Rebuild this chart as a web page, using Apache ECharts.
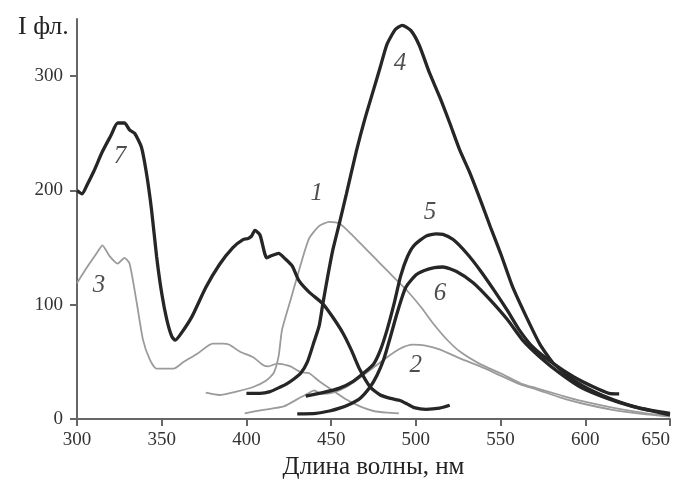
<!DOCTYPE html>
<html>
<head>
<meta charset="utf-8">
<script src="https://cdn.jsdelivr.net/npm/echarts@6/dist/echarts.min.js"></script>
<style>html,body{margin:0;padding:0;background:#fff;}#c{width:673px;height:482px;}</style>
</head>
<body>
<div id="c"></div>
<script>
// Data (wavelength nm, fluorescence intensity)
const curve1 = [[376,23],[384,21],[394,24],[404,28],[411,33],[416,40],[419,55],[421,78],[426,104],[432,135],[437,158],[443,169],[449,172.5],[455,171],[463,160],[471,148],[479,136],[487,124],[495,112],[503,98],[510,84],[518,70],[526,59],[538,48],[550,40],[562,31],[571,27],[585,21],[597,16],[616,10],[636,5],[650,3]];
const curve2 = [[399,5],[410,8],[422,11],[432,19],[436,22],[440,25],[444,22],[451,23],[459,28],[467,36],[475,45],[483,54],[490,61],[498,65],[505,64.5],[514,61],[526,53],[538,46],[550,38],[562,30],[571,26],[585,19],[597,14],[616,8],[636,4],[650,2]];
const curve3 = [[300,119],[306,133],[312,146],[315,152],[319,143],[324,136],[328,141],[331,136],[335,104],[339,69],[343,52],[347,44],[357,44],[363,50],[371,57],[380,66],[386,66],[390,65],[396,59],[404,54],[410,47],[413,46],[418,48.5],[421,48],[426,46],[432,41],[437,40],[443,33],[451,25],[459,17],[467,11],[475,7],[483,5.5],[490,5]];
const curve4 = [[400,22.5],[408,22.5],[414,24],[420,28],[424,31],[428,35],[432,40],[436,50],[440,68],[443,82],[445,100],[448,125],[451,148],[455,172],[459,197],[465,235],[470,263],[475,288],[479,308],[483,328],[488,341],[492,344.5],[497,340],[502,327],[508,303],[514,282],[520,259],[526,235],[532,215],[538,192],[544,168],[550,145],[557,116],[565,90],[573,66],[581,49],[593,34],[605,24],[617,16.5],[632,9.5],[650,5]];
const curve5 = [[435,20],[445,23],[455,27],[463,33],[469,40],[475,48],[479,60],[483,78],[487,100],[491,125],[495,142],[499,152],[506,160],[512,162],[516,161.5],[522,157],[530,145],[538,130],[546,113],[554,95],[561,78],[569,63],[581,48.6],[593,37],[605,28],[614,22.5],[620,22]];
const curve6 = [[430,4.5],[441,5],[449,7],[455,9.5],[461,13],[467,18],[473,28],[477,38],[481,52],[485,72],[489,93],[494,115],[500,126],[505,130],[511,132.5],[516,133],[524,129],[534,119],[544,104],[554,87],[563,69],[573,54.5],[585,40],[597,28],[613,18],[628,11],[650,3.5]];
const curve7 = [[300,200],[303,197],[306,205],[310,217],[315,234],[320,248],[324,259],[328,259],[331,253],[334,250],[338,238],[341,215],[344,183],[347,142],[350,110],[353,87],[356,72],[358,69],[362,76],[368,90],[376,115],[384,135],[392,150],[398,157],[401,158],[403,160],[405,165],[408,161],[412,141],[415,143],[419,145],[423,140],[427,134],[431,121],[437,111],[445,101],[451,89],[457,75],[462,60],[467,43],[473,28],[479,21],[485,18],[491,16],[495,13],[499,10],[506,8.5],[514,9.5],[520,12]];
const curveLabels = [['1',441.5,197.5],['2',500,47],['3',313,117],['4',490.7,311],['5',508.4,181],['6',514.3,110],['7',325.4,229.5]];
const xTicks = [300,350,400,450,500,550,600,650];
const yTicks = [0,100,200,300];

const BLACK = '#262626', GRAY = '#9b9b9b';
const FONT = 'Liberation Serif';
function line(name, data, color, width) {
  return {name, type:'line', data, showSymbol:false, smooth:0.2, silent:true,
    lineStyle:{color, width}, z: color===BLACK?3:2};
}
const chart = echarts.init(document.getElementById('c'));
chart.setOption({
  animation:false,
  backgroundColor:'#fff',
  title:{text:'I фл.', left:13, top:9, textStyle:{fontFamily:FONT, fontSize:26, fontWeight:'normal', color:'#222'}},
  grid:{left:77, right:3, top:19, bottom:63, containLabel:false, outerBoundsMode:'none'},
  xAxis:{type:'value', min:300, max:650, interval:50,
    name:'Длина волны, нм', nameLocation:'middle', nameGap:34,
    nameTextStyle:{fontFamily:FONT, fontSize:25, color:'#222'},
    axisLine:{lineStyle:{color:'#666', width:2}},
    axisTick:{show:true, length:7, lineStyle:{color:'#666', width:2}, customValues:xTicks},
    axisLabel:{fontFamily:FONT, fontSize:19, color:'#333', margin:12, customValues:xTicks, alignMaxLabel:'right'},
    splitLine:{show:false}},
  yAxis:{type:'value', min:0, max:350, interval:50,
    axisLine:{show:true, lineStyle:{color:'#666', width:2}},
    axisTick:{show:true, length:7, lineStyle:{color:'#666', width:2}, customValues:yTicks},
    axisLabel:{fontFamily:FONT, fontSize:19, color:'#333', margin:14, customValues:yTicks},
    splitLine:{show:false}},
  series:[
    line('1', curve1, GRAY, 1.8),
    line('2', curve2, GRAY, 1.8),
    line('3', curve3, GRAY, 1.8),
    line('4', curve4, BLACK, 3.3),
    line('5', curve5, BLACK, 3.3),
    line('6', curve6, BLACK, 3.3),
    line('7', curve7, BLACK, 3.3),
    {type:'scatter', silent:true, symbolSize:1, itemStyle:{color:'rgba(0,0,0,0)'}, z:5,
      data: curveLabels.map(l => ({value:[l[1], l[2]], name:l[0]})),
      label:{show:true, position:'inside', formatter: p => p.name,
        fontFamily:FONT, fontStyle:'italic', fontSize:25, color:'#222'}}
  ]
});
</script>
</body>
</html>
